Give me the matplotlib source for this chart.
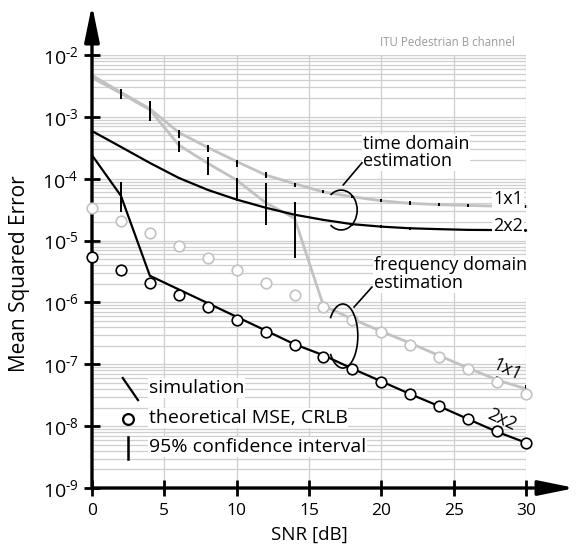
import matplotlib
matplotlib.use('Agg')
import matplotlib.pyplot as plt
import numpy as np
from matplotlib.patches import Arc
from matplotlib.ticker import LogLocator

plt.rcParams['font.family'] = ['Open Sans', 'DejaVu Sans']
plt.rcParams['mathtext.fontset'] = 'custom'
plt.rcParams['mathtext.rm'] = 'Open Sans'
plt.rcParams['mathtext.default'] = 'regular'
plt.rcParams['axes.unicode_minus'] = False

# SNR grid of the simulation [dB]
snr = [0, 2, 4, 6, 8, 10, 12, 14, 16, 18, 20, 22, 24, 26, 28, 30]
x_ticks = [0, 5, 10, 15, 20, 25, 30]
y_ticks = [1e-9, 1e-8, 1e-7, 1e-6, 1e-5, 1e-4, 1e-3, 1e-2]
y_tick_labels = [r'10$^{\text{-}9}$', r'10$^{\text{-}8}$', r'10$^{\text{-}7}$',
                 r'10$^{\text{-}6}$', r'10$^{\text{-}5}$', r'10$^{\text{-}4}$',
                 r'10$^{\text{-}3}$', r'10$^{\text{-}2}$']

# simulated MSE, time domain estimation
tdom_1x1 = [4.7e-3, 2.5e-3, 1.35e-3, 5.6e-4, 3.2e-4, 1.9e-4, 1.15e-4, 8.3e-5,
            6.1e-5, 5.1e-5, 4.4e-5, 4.0e-5, 3.8e-5, 3.7e-5, 3.6e-5, 3.55e-5]
tdom_2x2 = [5.9e-4, 3.27e-4, 1.8e-4, 1.03e-4, 6.6e-5, 4.6e-5, 3.4e-5, 2.62e-5,
            2.16e-5, 1.84e-5, 1.68e-5, 1.58e-5, 1.53e-5, 1.49e-5, 1.48e-5, 1.46e-5]

# simulated MSE, frequency domain estimation
fdom_1x1 = [4.3e-3, 2.4e-3, 1.3e-3, 3.5e-4, 1.78e-4, 9.5e-5, 4.1e-5, 2.3e-5,
            8.8e-7, 5.4e-7, 3.4e-7, 2.2e-7, 1.38e-7, 8.7e-8, 5.6e-8, 4.0e-8]
fdom_2x2 = [2.4e-4, 5.3e-5, 2.7e-6, 1.62e-6, 9.75e-7, 5.85e-7, 3.52e-7, 2.11e-7,
            1.4e-7, 8.5e-8, 5.3e-8, 3.3e-8, 2.1e-8, 1.3e-8, 8.1e-9, 5.4e-9]

# theoretical MSE (CRLB)
theory_1x1 = [3.33e-5, 2.1e-5, 1.34e-5, 8.3e-6, 5.2e-6, 3.4e-6, 2.1e-6, 1.31e-6,
              8.4e-7, 5.25e-7, 3.3e-7, 2.07e-7, 1.31e-7, 8.3e-8, 5.2e-8, 3.3e-8]
theory_2x2 = [5.4e-6, 3.4e-6, 2.1e-6, 1.33e-6, 8.4e-7, 5.25e-7, 3.3e-7, 2.07e-7,
              1.31e-7, 8.3e-8, 5.2e-8, 3.3e-8, 2.1e-8, 1.32e-8, 8.2e-9, 5.25e-9]

# 95% confidence intervals (nan = not drawn)
nan = np.nan
tdom_1x1_lo = [nan, 1.95e-3, nan, 4.5e-4, 2.74e-4, 1.57e-4, 1.04e-4, 7.45e-5,
               5.8e-5, 4.85e-5, 4.2e-5, 3.8e-5, 3.6e-5, 3.5e-5, 3.4e-5, 3.35e-5]
tdom_1x1_hi = [nan, 2.79e-3, nan, 6.2e-4, 3.52e-4, 2.01e-4, 1.27e-4, 8.45e-5,
               6.6e-5, 5.5e-5, 4.7e-5, 4.3e-5, 4.05e-5, 3.95e-5, 3.85e-5, 3.8e-5]
tdom_2x2_lo = [nan, nan, nan, nan, nan, nan, nan, nan,
               2.06e-5, 1.75e-5, 1.6e-5, 1.5e-5, 1.46e-5, 1.42e-5, 1.41e-5, 1.39e-5]
tdom_2x2_hi = [nan, nan, nan, nan, nan, nan, nan, nan,
               2.27e-5, 1.93e-5, 1.76e-5, 1.66e-5, 1.61e-5, 1.56e-5, 1.55e-5, 1.53e-5]
fdom_1x1_lo = [nan, nan, 8.6e-4, 2.68e-4, 1.15e-4, 4.4e-5, 1.8e-5, 5.2e-6,
               8.5e-7, 5.2e-7, 3.3e-7, 2.1e-7, 1.34e-7, 8.4e-8, 5.4e-8, 3.9e-8]
fdom_1x1_hi = [nan, nan, 1.81e-3, 4.08e-4, 2.28e-4, 1.03e-4, 8.45e-5, 4.27e-5,
               1.0e-6, 6.2e-7, 3.9e-7, 2.5e-7, 1.58e-7, 1.0e-7, 6.4e-8, 4.6e-8]
fdom_2x2_lo = [nan, 2.95e-5, nan, nan, nan, nan, nan, nan,
               nan, nan, nan, nan, nan, nan, nan, nan]
fdom_2x2_hi = [nan, 8.97e-5, nan, nan, nan, nan, nan, nan,
               nan, nan, nan, nan, nan, nan, nan, nan]

GRAY = '#c2c2c2'
GRID = '#cfcfcf'

fig = plt.figure(figsize=(5.76, 5.5), dpi=100)
ax = fig.add_axes([0.1597, 0.1127, 0.7535, 0.7873])
ax.set_yscale('log')
ax.set_xlim(0, 30)
ax.set_ylim(1e-9, 1e-2)

# ticks and grid
ax.set_xticks(x_ticks)
ax.set_yticks(y_ticks)
ax.set_yticklabels(y_tick_labels)
ax.yaxis.set_minor_locator(LogLocator(base=10, subs=np.arange(2, 10), numticks=20))
ax.yaxis.set_minor_formatter(plt.NullFormatter())
ax.grid(True, which='major', axis='x', color=GRID, lw=0.9, zorder=0)
ax.grid(True, which='both', axis='y', color=GRID, lw=0.9, zorder=0)
ax.axhline(1e-2, color=GRID, lw=0.9, zorder=0)
for s in ax.spines.values():
    s.set_visible(False)
ax.tick_params(which='major', direction='inout', length=11, width=2,
               color='black')
ax.tick_params(axis='y', which='major', labelsize=14, pad=4)
ax.tick_params(axis='x', which='major', labelsize=12.5, pad=5)
ax.tick_params(which='minor', length=0)

# axis arrows
arrow_kw = dict(arrowstyle='-|>,head_length=2.2,head_width=0.45',
                mutation_scale=10, lw=2.4, color='black',
                shrinkA=0, shrinkB=0)
ax.annotate('', xy=(0, 1.1155), xytext=(0, 0), xycoords='axes fraction',
            arrowprops=arrow_kw, zorder=4, annotation_clip=False)
ax.annotate('', xy=(1.113, 0), xytext=(0, 0), xycoords='axes fraction',
            arrowprops=arrow_kw, zorder=4, annotation_clip=False)

# simulation curves
ax.plot(snr, tdom_1x1, color=GRAY, lw=2.0, zorder=2, clip_on=False)
ax.plot(snr, fdom_1x1, color=GRAY, lw=2.0, zorder=2, clip_on=False)
ax.plot(snr, tdom_2x2, color='black', lw=1.6, zorder=2.2, clip_on=False)
ax.plot(snr, fdom_2x2, color='black', lw=1.6, zorder=2.2, clip_on=False)

# confidence intervals
for lo, hi in [(tdom_1x1_lo, tdom_1x1_hi), (tdom_2x2_lo, tdom_2x2_hi),
               (fdom_1x1_lo, fdom_1x1_hi), (fdom_2x2_lo, fdom_2x2_hi)]:
    ax.vlines(snr, lo, hi, color='black', lw=1.4, zorder=2.5)

# theoretical MSE
ax.scatter(snr, theory_1x1, s=58, facecolor='white', edgecolor=GRAY,
           lw=1.2, zorder=5, clip_on=False)
ax.scatter(snr, theory_2x2, s=58, facecolor='white', edgecolor='black',
           lw=1.2, zorder=5, clip_on=False)

box = dict(facecolor='white', edgecolor='none', pad=0.6)

# curve labels and group brackets
ax.text(0.624, 0.775, 'time domain\nestimation', transform=ax.transAxes,
        fontsize=13, ha='left', va='center', linespacing=0.95, bbox=box, zorder=6)
ax.add_patch(Arc((0.574, 0.642), 0.074, 0.092, theta1=-125, theta2=125,
                 transform=ax.transAxes, color='black', lw=1.2, zorder=6))
ax.plot([0.579, 0.622], [0.700, 0.751], color='black', lw=1.2,
        transform=ax.transAxes, zorder=6)
ax.text(0.650, 0.494, 'frequency domain\nestimation', transform=ax.transAxes,
        fontsize=13, ha='left', va='center', linespacing=0.95, bbox=box, zorder=6)
ax.add_patch(Arc((0.578, 0.351), 0.069, 0.148, theta1=-125, theta2=125,
                 transform=ax.transAxes, color='black', lw=1.2, zorder=6))
ax.plot([0.604, 0.645], [0.418, 0.464], color='black', lw=1.2,
        transform=ax.transAxes, zorder=6)

ax.text(0.924, 0.667, '1x1', transform=ax.transAxes, fontsize=13,
        ha='left', va='center', bbox=box, zorder=6)
ax.text(0.924, 0.605, '2x2', transform=ax.transAxes, fontsize=13,
        ha='left', va='center', bbox=box, zorder=6)
ax.text(0.956, 0.2725, '1x1', transform=ax.transAxes, fontsize=13,
        ha='center', va='center', rotation=-25, zorder=6)
ax.text(0.945, 0.157, '2x2', transform=ax.transAxes, fontsize=13,
        ha='center', va='center', rotation=-25, zorder=6)

ax.text(0.975, 1.028, 'ITU Pedestrian B channel', transform=ax.transAxes,
        fontsize=8.3, color='#9a9a9a', ha='right', va='center')

# legend
ax.plot([0.071, 0.106], [0.254, 0.203], color='black', lw=1.6,
        transform=ax.transAxes, zorder=6)
ax.scatter([0.083], [0.159], s=60, facecolor='white', edgecolor='black',
           lw=1.6, transform=ax.transAxes, zorder=6)
ax.plot([0.083, 0.083], [0.118, 0.066], color='black', lw=1.8,
        transform=ax.transAxes, zorder=6)
for y, label in [(0.231, 'simulation'), (0.162, 'theoretical MSE, CRLB'),
                 (0.095, '95% confidence interval')]:
    ax.text(0.131, y, label, transform=ax.transAxes, fontsize=14,
            ha='left', va='center', bbox=box, zorder=6)

ax.text(0.5, -0.1085, 'SNR [dB]', transform=ax.transAxes, fontsize=13.5,
        ha='center', va='center')
ax.text(-0.166, 0.494, 'Mean Squared Error', transform=ax.transAxes,
        fontsize=15, ha='center', va='center', rotation=90)

fig.savefig('out.png', dpi=100)
